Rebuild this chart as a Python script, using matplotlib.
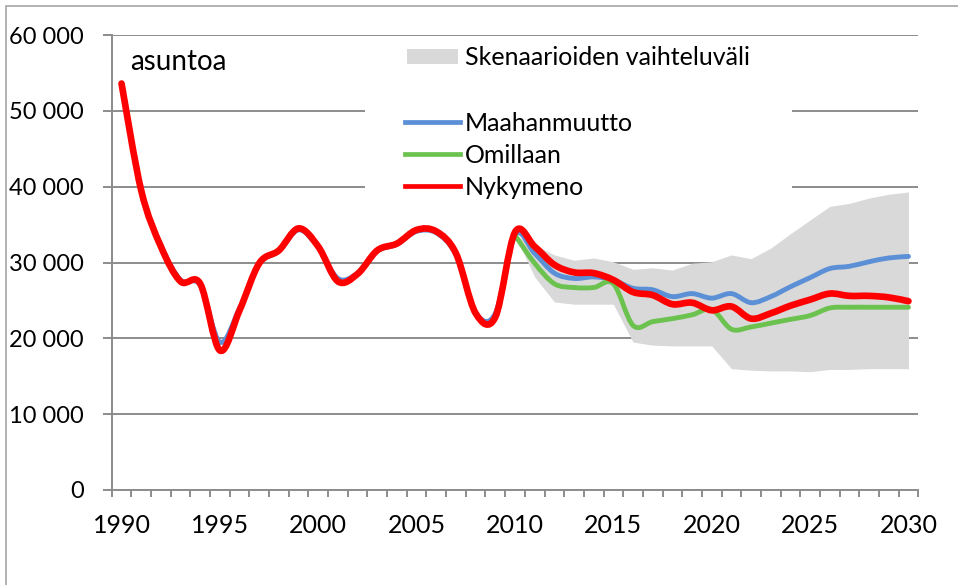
import numpy as np
import matplotlib
matplotlib.use("Agg")
import matplotlib.pyplot as plt
from matplotlib.path import Path
from matplotlib.patches import PathPatch, Rectangle, Patch
from matplotlib.lines import Line2D
from matplotlib.ticker import FuncFormatter

plt.rcParams['font.family'] = ['Lato', 'DejaVu Sans']

# vuodet ja sarjat (luettu kuvasta)
years = list(range(1990, 2031))
nykymeno = [53600, 39500, 32100, 27500, 27200, 18400, 23700, 29900, 31600, 34500,
            32100, 27500, 28500, 31600, 32500, 34300, 34100, 31200, 23300, 22800,
            34000, 32100, 29700, 28700, 28600, 27700, 26100, 25700, 24500, 24700,
            23700, 24200, 22600, 23300, 24300, 25100, 25900, 25600, 25600, 25400,
            24900]
maahanmuutto = [53600, 39500, 32300, 27700, 27000, 19500, 24000, 29800, 31500, 34300,
                32000, 27900, 28600, 31500, 32400, 34100, 33900, 31000, 23400, 23300,
                33600, 31200, 28600, 27900, 28100, 27700, 26600, 26400, 25500, 25900,
                25300, 25900, 24700, 25500, 26800, 28000, 29200, 29500, 30100, 30600,
                30800]
years_sk = list(range(2010, 2031))
omillaan = [33600, 29900, 27200, 26700, 26700, 27200, 21700, 22200, 22600, 23100,
            23800, 21200, 21500, 22000, 22500, 23000, 24000, 24100, 24100, 24100,
            24100]
vaihtelu_ala = [33600, 28100, 24800, 24500, 24500, 24500, 19500, 19100, 19000, 19000,
                19000, 16000, 15800, 15700, 15700, 15600, 15900, 15900, 16000, 16000,
                16000]
vaihtelu_yla = [33600, 32300, 31000, 30300, 30600, 30100, 29100, 29300, 29000, 29900,
                30100, 31000, 30500, 31900, 33800, 35600, 37400, 37800, 38500, 39000,
                39300]


def smooth_path(x, y, t=1/6):
    # Excel-tyylinen pehmennetty viiva (Bezier)
    p = np.column_stack([x, y]).astype(float)
    n = len(p)
    verts = [p[0]]
    codes = [Path.MOVETO]
    for i in range(n - 1):
        p0 = p[i - 1] if i > 0 else p[i]
        p1, p2 = p[i], p[i + 1]
        p3 = p[i + 2] if i + 2 < n else p[i + 1]
        verts += [p1 + (p2 - p0) * t, p2 - (p3 - p1) * t, p2]
        codes += [Path.CURVE4] * 3
    return Path(verts, codes)


W, H = 958, 585
fig = plt.figure(figsize=(W / 100, H / 100), dpi=100)
ax = fig.add_axes([111.7 / W, 1 - 490 / H, (918.3 - 111.7) / W, (490 - 35) / H])

grey = '#8c8c8c'
blue = '#5b8fd6'
green = '#6cc24f'
red = '#ff0000'
fs = 18

ax.set_xlim(1989.5, 2030.5)
ax.set_ylim(0, 60000)
ax.set_yticks(range(0, 60001, 10000))
ax.yaxis.set_major_formatter(FuncFormatter(lambda v, p: f"{v:,.0f}".replace(",", " ")))
ax.set_xticks(range(1990, 2031, 5))
ax.set_xticks(np.arange(1989.5, 2031, 1), minor=True)
ax.tick_params(axis='x', which='major', length=0, pad=17, labelsize=fs)
ax.tick_params(axis='x', which='minor', length=5, width=1.4, color=grey)
ax.tick_params(axis='y', length=6.5, width=1.4, color=grey, pad=13.5, labelsize=17)
for s in ['top', 'right']:
    ax.spines[s].set_visible(False)
for s in ['left', 'bottom']:
    ax.spines[s].set_color(grey)
    ax.spines[s].set_linewidth(1.4)
    ax.spines[s].set_zorder(6)
ax.yaxis.grid(True, color=grey, linewidth=1.4, zorder=0)
ax.set_axisbelow(True)

ax.fill_between(years_sk, vaihtelu_ala, vaihtelu_yla, color='#d9d9d9', lw=0, zorder=2)

for xs, ys, c, lw in [(years, maahanmuutto, blue, 3.5),
                      (years_sk, omillaan, green, 3.5),
                      (years, nykymeno, red, 4.8)]:
    ax.add_patch(PathPatch(smooth_path(xs, ys), fill=False, edgecolor=c, lw=lw,
                           capstyle='round', joinstyle='round', zorder=4))

# legendan valkoinen tausta katkaisee ruudukon
fig.add_artist(Rectangle((365 / W, 1 - 205 / H), (792 - 365) / W, (205 - 95) / H,
                         transform=fig.transFigure, facecolor='white', edgecolor='none',
                         zorder=1.5))

leg1 = fig.legend(handles=[Patch(facecolor='#d9d9d9', edgecolor='none')],
                  labels=['Skenaarioiden vaihteluväli'], loc='upper left',
                  bbox_to_anchor=(407 / W, 1 - 46 / H), frameon=False, fontsize=fs,
                  borderpad=0, borderaxespad=0, handlelength=2.05, handleheight=0.56,
                  handletextpad=0.28)
leg2 = fig.legend(handles=[Line2D([], [], color=blue, lw=3.4),
                           Line2D([], [], color=green, lw=3.4),
                           Line2D([], [], color=red, lw=3.4)],
                  labels=['Maahanmuutto', 'Omillaan', 'Nykymeno'], loc='upper left',
                  bbox_to_anchor=(405 / W, 1 - 112 / H), frameon=False, fontsize=fs,
                  borderpad=0, borderaxespad=0, handlelength=2.2, handletextpad=0.2,
                  labelspacing=0.36)

fig.text(130 / W, 1 - 70 / H, 'asuntoa', fontsize=20, va='baseline', ha='left')

# kehys kuvan ympärillä
fig.add_artist(Rectangle((5.5 / W, -0.05), 1.1, 1 - 6 / H + 0.05, transform=fig.transFigure,
                         fill=False, edgecolor='#a6a6a6', lw=1.2))

fig.savefig('out.png', dpi=100)
